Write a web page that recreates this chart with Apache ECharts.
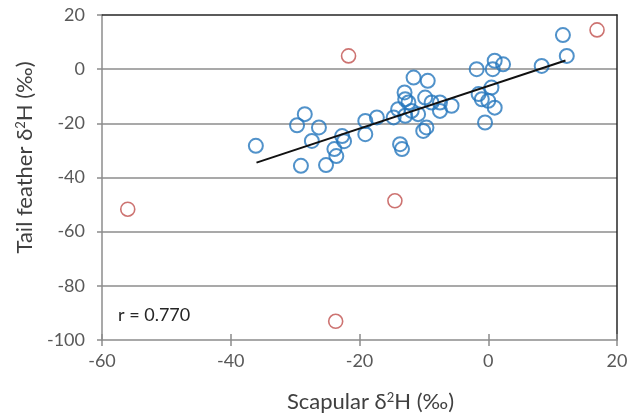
<!DOCTYPE html>
<html>
<head>
<meta charset="utf-8">
<script src="https://cdn.jsdelivr.net/npm/echarts@6/dist/echarts.min.js"></script>
<style>
  html, body { margin: 0; padding: 0; background: #fff; }
  #chart { width: 631px; height: 417px; }
</style>
</head>
<body>
<div id="chart"></div>
<script>
// scapular vs tail feather, blue = included birds
const blueX = [-36.1, -28.5, -29.7, -26.3, -27.4, -29.1, -25.2, -22.7, -22.4, -23.9, -23.6,
  -19.1, -19.1, -17.3, -11.6, -9.4, -13.0, -12.9, -12.4, -9.8, -8.8, -7.5, -5.7, -7.5,
  -14.0, -14.7, -12.9, -10.9, -11.9, -9.6, -10.1, -13.7, -13.4,
  -1.8, 1.0, 2.3, 0.7, 8.3, 12.2, 11.6, 0.5, -1.5, -1.0, 0.0, 1.0, -0.5]
const blueY = [-28.3, -16.6, -20.7, -21.5, -26.5, -35.7, -35.4, -24.7, -26.6, -29.5, -32.1,
  -19.1, -24.0, -17.8, -3.1, -4.3, -8.6, -11.1, -12.3, -10.5, -12.3, -12.3, -13.5, -15.4,
  -14.8, -17.8, -17.2, -16.6, -15.4, -21.5, -22.8, -27.7, -29.5,
  0.0, 3.1, 1.8, 0.0, 1.2, 4.9, 12.6, -6.8, -9.2, -11.1, -11.7, -14.2, -19.7]
// outliers (red)
const redX = [16.9, -21.7, -56.0, -14.5, -23.7]
const redY = [14.5, 4.9, -51.7, -48.6, -93.1]
// regression line ends
const fitX = [-36, 12]
const fitY = [-34.5, 3.2]

const xTicks = [-60, -40, -20, 0, 20]
const yTicks = [-100, -80, -60, -40, -20, 0, 20]

const pairs = (xs, ys) => xs.map((x, i) => [x, ys[i]])

const font = 'Lato, "Open Sans", sans-serif'
const tickColor = '#595959'
const titleColor = '#404040'
const axisGray = '#8c8c8c'

let chart = echarts.init(document.getElementById('chart'))

const supStyle = { fontSize: 13, verticalAlign: 'top', padding: [0, 0, 9, 0], color: titleColor, fontFamily: font }

let option = {
  animation: false,
  textStyle: { fontFamily: font },
  grid: { left: 102, right: 14, top: 15, bottom: 77, containLabel: false, outerBoundsMode: 'none' },
  xAxis: [
    {
      type: 'value',
      min: xTicks[0], max: xTicks[xTicks.length - 1], interval: 20,
      position: 'bottom',
      name: 'Scapular δ{sup|2}H (‰)',
      nameLocation: 'middle',
      nameGap: 51,
      nameTextStyle: {
        fontSize: 22, color: titleColor, fontFamily: font, padding: [0, 0, 0, 22],
        rich: { sup: supStyle }
      },
      axisLine: { onZero: false, lineStyle: { color: axisGray, width: 1.5 } },
      axisTick: { show: true, length: 6, lineStyle: { color: axisGray, width: 1.5 } },
      axisLabel: { fontSize: 18, color: tickColor, margin: 12, fontFamily: font },
      splitLine: { show: false }
    },
    {
      type: 'value',
      min: xTicks[0], max: xTicks[xTicks.length - 1], interval: 20,
      position: 'top',
      axisLine: { onZero: false, lineStyle: { color: '#262626', width: 1.5 } },
      axisTick: { show: false },
      axisLabel: { show: false },
      splitLine: { show: false }
    },
    {
      // inner half of the crossing x ticks
      type: 'value',
      min: xTicks[0], max: xTicks[xTicks.length - 1], interval: 20,
      position: 'bottom',
      axisLine: { show: false, onZero: false },
      axisTick: { show: true, inside: true, length: 6, lineStyle: { color: axisGray, width: 1.5 } },
      axisLabel: { show: false },
      splitLine: { show: false }
    }
  ],
  yAxis: [
    {
      type: 'value',
      min: yTicks[0], max: yTicks[yTicks.length - 1], interval: 20,
      position: 'left',
      name: 'Tail feather δ{sup|2}H (‰)',
      nameLocation: 'middle',
      nameGap: 66,
      nameTextStyle: {
        fontSize: 22, color: titleColor, fontFamily: font, padding: [0, 0, 0, 40],
        rich: { sup: supStyle }
      },
      axisLine: { show: true, onZero: false, lineStyle: { color: axisGray, width: 1.5 } },
      axisTick: { show: true, length: 5, lineStyle: { color: axisGray, width: 1.5 } },
      axisLabel: { fontSize: 18, color: tickColor, margin: 17, fontFamily: font },
      splitLine: { show: true, showMaxLine: false, showMinLine: false, lineStyle: { color: axisGray, width: 1.5 } }
    },
    {
      type: 'value',
      min: yTicks[0], max: yTicks[yTicks.length - 1], interval: 20,
      position: 'right',
      axisLine: { show: true, onZero: false, lineStyle: { color: '#262626', width: 1.5 } },
      axisTick: { show: false },
      axisLabel: { show: false },
      splitLine: { show: false }
    }
  ],
  graphic: [
    {
      type: 'text',
      left: 118,
      top: 306,
      style: { text: 'r = 0.770', fontSize: 18, fill: '#262626', fontFamily: font }
    }
  ],
  series: [
    {
      type: 'scatter',
      data: pairs(blueX, blueY),
      symbol: 'circle',
      symbolSize: 14,
      itemStyle: { color: 'rgba(0,0,0,0)', borderColor: '#2577bd', borderWidth: 2 },
      z: 3
    },
    {
      type: 'scatter',
      data: pairs(redX, redY),
      symbol: 'circle',
      symbolSize: 14,
      itemStyle: { color: 'rgba(0,0,0,0)', borderColor: '#c0504d', borderWidth: 1.6 },
      z: 3
    },
    {
      type: 'line',
      data: pairs(fitX, fitY),
      symbol: 'none',
      lineStyle: { color: '#111', width: 2 },
      z: 4
    }
  ]
}

chart.setOption(option)
</script>
</body>
</html>
